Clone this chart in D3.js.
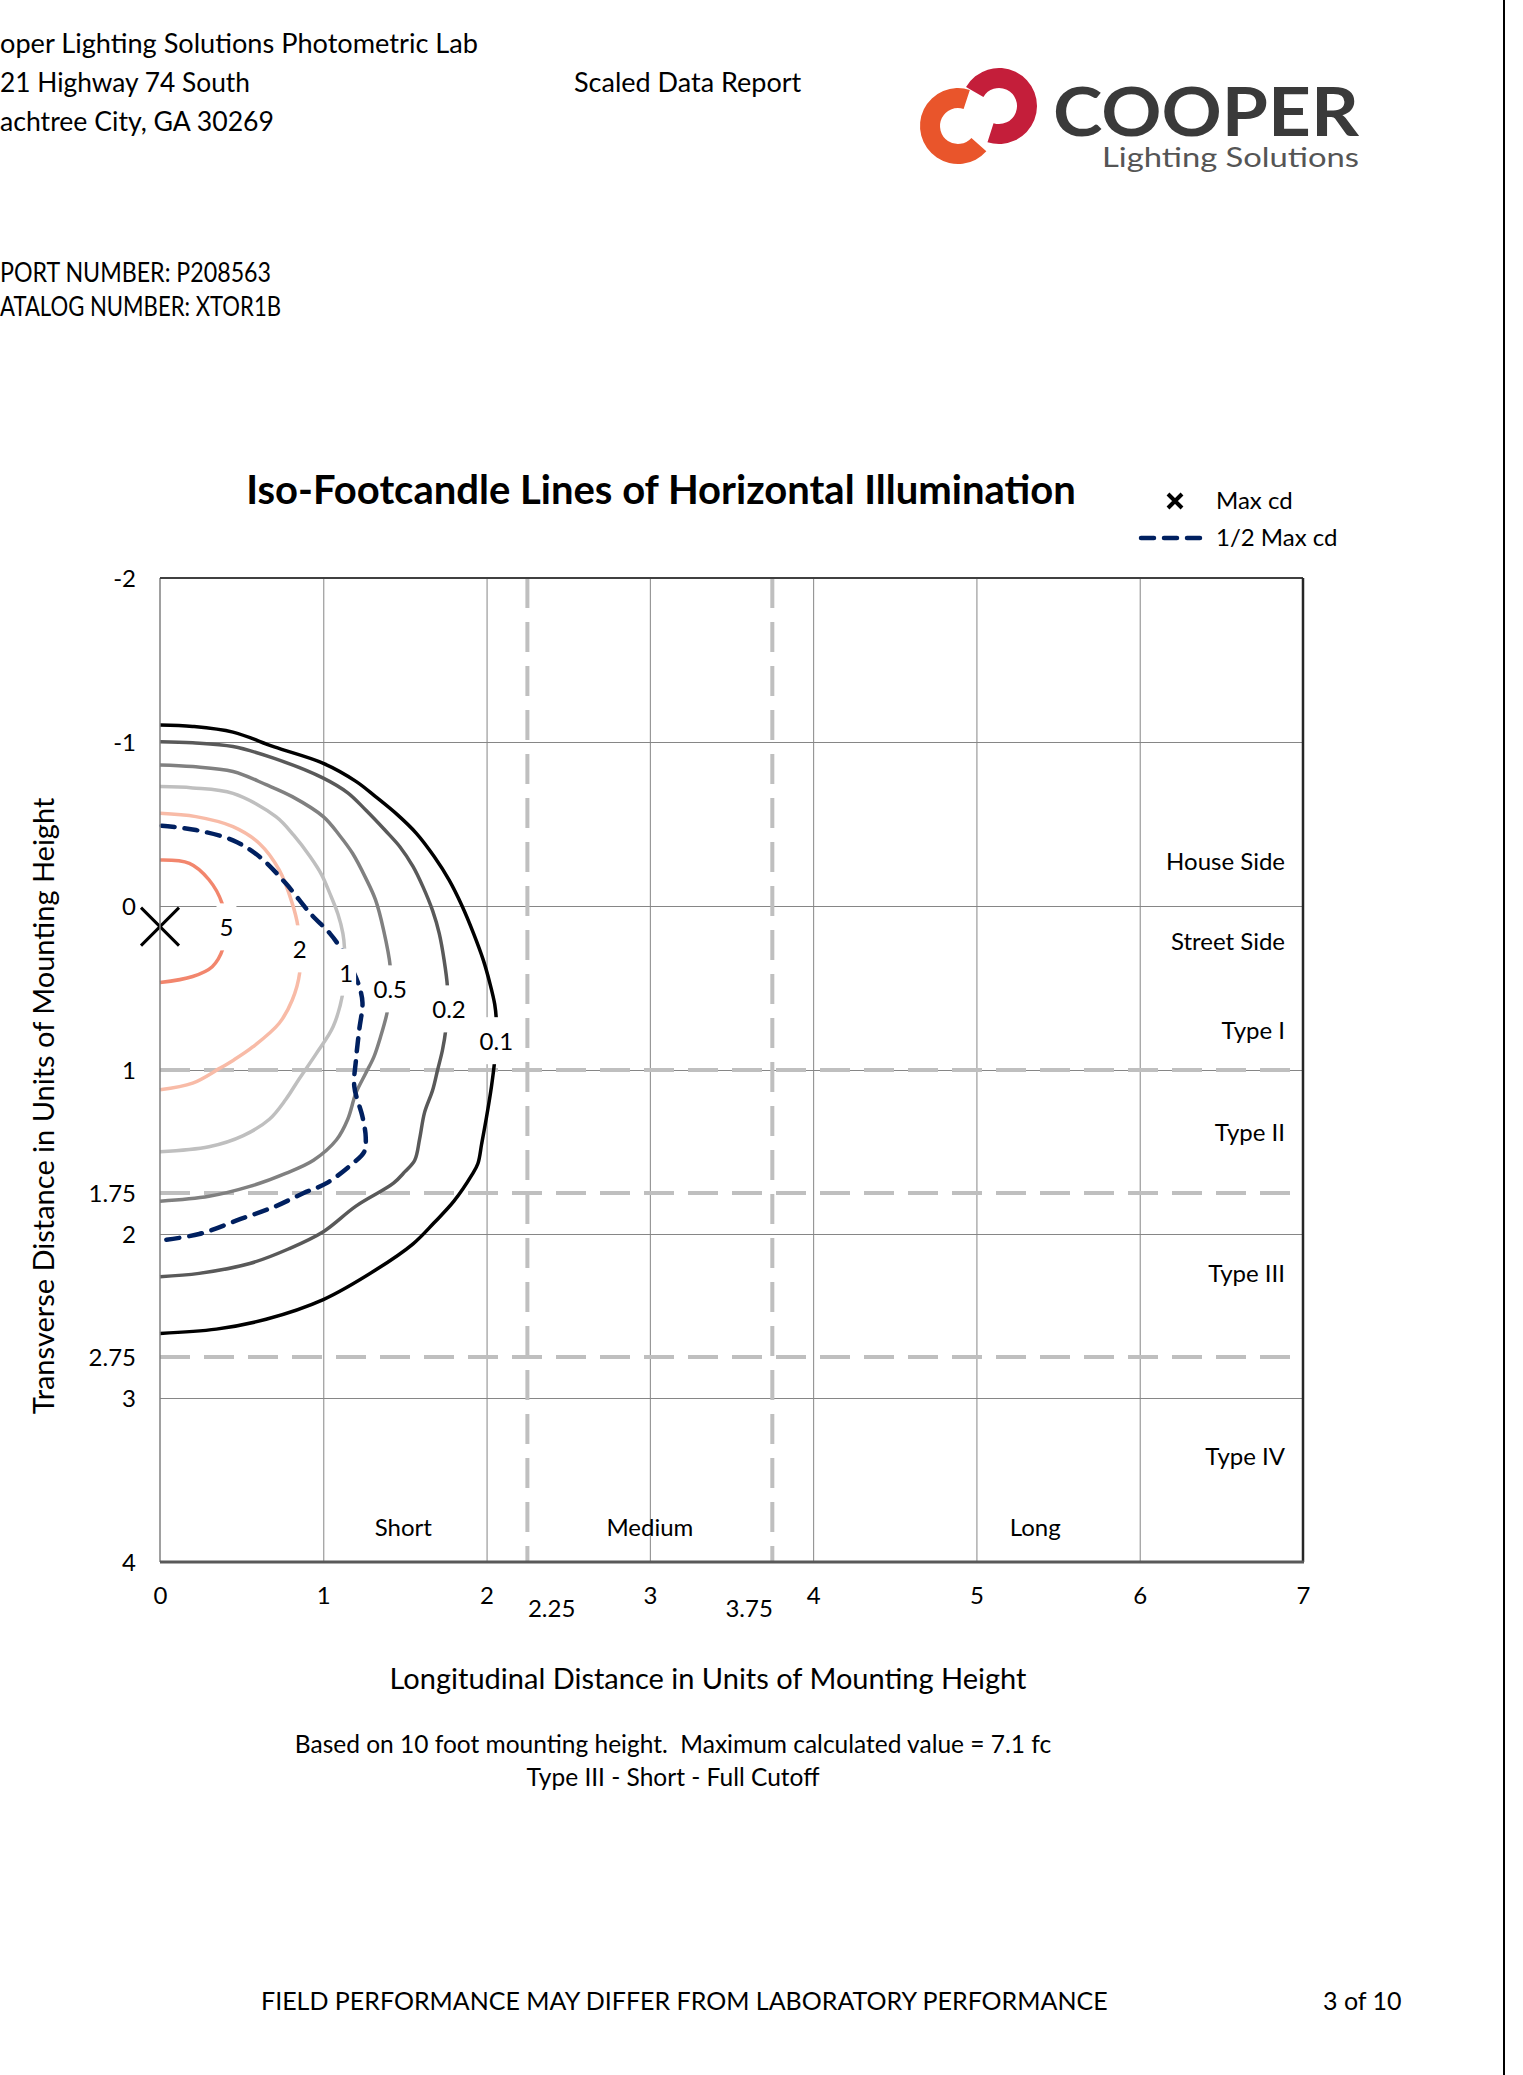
<!DOCTYPE html>
<html>
<head>
<meta charset="utf-8">
<script src="https://cdn.jsdelivr.net/npm/d3@7"></script>
<style>
  body { margin: 0; background: #fff; }
  svg { display: block; font-family: Lato, "Open Sans", sans-serif; }
</style>
</head>
<body>
<svg id="page"></svg>
<script>
var pageWidth = 1523,
    pageHeight = 2075;

// axis values
var xTicks = [0, 1, 2, 3, 4, 5, 6, 7];
var xExtraTicks = [2.25, 3.75];
var yTicks = [-2, -1, 0, 1, 1.75, 2, 2.75, 3, 4];
var gridX = [1, 2, 3, 4, 5, 6];
var gridY = [-1, 0, 1, 2, 3];
var rangeLinesX = [2.25, 3.75];
var typeLinesY = [1, 1.75, 2.75];

// iso-footcandle contours, [longitudinal, transverse] in mounting heights
var contourLevels = ["0.1", "0.2", "0.5", "1", "2", "5"];
var contour01 = [[0,-1.104],[0.2,-1.095],[0.447,-1.06],[0.7,-0.97],[1.0,-0.87],[1.2,-0.76],[1.32,-0.667],[1.45,-0.56],[1.57,-0.443],[1.68,-0.30],[1.77,-0.159],[1.85,0.0],[1.92,0.167],[1.98,0.33],[2.02,0.47],[2.05,0.6],[2.06,0.7],[2.06,0.80],[2.05,0.94],[2.03,1.1],[2.0,1.285],[1.97,1.45],[1.947,1.57],[1.91,1.64],[1.80,1.80],[1.68,1.93],[1.55,2.06],[1.32,2.22],[1.0,2.40],[0.65,2.52],[0.345,2.58],[0,2.606]];
var contour02 = [[0,-1.002],[0.2,-0.995],[0.447,-0.972],[0.7,-0.9],[1.0,-0.78],[1.15,-0.69],[1.26,-0.585],[1.38,-0.46],[1.47,-0.36],[1.55,-0.24],[1.61,-0.118],[1.67,0.03],[1.71,0.167],[1.74,0.33],[1.76,0.49],[1.76,0.62],[1.75,0.756],[1.73,0.878],[1.70,1.0],[1.67,1.122],[1.62,1.26],[1.59,1.42],[1.56,1.55],[1.50,1.62],[1.43,1.69],[1.20,1.83],[1.0,1.986],[0.79,2.09],[0.55,2.18],[0.24,2.24],[0,2.26]];
var contour05 = [[0,-0.86],[0.2,-0.85],[0.447,-0.82],[0.65,-0.74],[0.81,-0.667],[1.0,-0.545],[1.1,-0.43],[1.18,-0.32],[1.26,-0.17],[1.32,-0.037],[1.37,0.15],[1.41,0.37],[1.41,0.52],[1.39,0.654],[1.35,0.80],[1.31,0.92],[1.26,1.02],[1.20,1.14],[1.15,1.30],[1.08,1.427],[0.94,1.55],[0.77,1.63],[0.55,1.71],[0.30,1.77],[0,1.80]];
var contour1 = [[0,-0.728],[0.2,-0.72],[0.447,-0.687],[0.71,-0.545],[0.82,-0.43],[0.92,-0.30],[0.99,-0.19],[1.04,-0.077],[1.09,0.05],[1.12,0.167],[1.13,0.258],[1.13,0.40],[1.12,0.53],[1.06,0.736],[0.957,0.90],[0.855,1.05],[0.77,1.18],[0.67,1.30],[0.51,1.40],[0.30,1.468],[0,1.498]];
var contour2 = [[0,-0.565],[0.22,-0.545],[0.447,-0.484],[0.61,-0.38],[0.73,-0.22],[0.81,-0.016],[0.845,0.126],[0.855,0.27],[0.855,0.41],[0.81,0.573],[0.73,0.715],[0.57,0.858],[0.45,0.94],[0.365,0.99],[0.20,1.08],[0,1.12]];
var contour5 = [[0,-0.28],[0.18,-0.26],[0.30,-0.16],[0.38,-0.016],[0.40,0.13],[0.386,0.258],[0.32,0.37],[0.20,0.43],[0,0.467]];
var contourLabelAt = [[2.06,0.828],[1.77,0.634],[1.41,0.512],[1.14,0.41],[0.855,0.268],[0.407,0.134]];

var halfMaxCd = [[0.01,-0.49],[0.22,-0.463],[0.447,-0.40],[0.61,-0.30],[0.77,-0.138],[0.92,0.045],[1.04,0.167],[1.10,0.248],[1.17,0.37],[1.22,0.49],[1.24,0.59],[1.22,0.756],[1.20,0.94],[1.19,1.10],[1.24,1.285],[1.26,1.41],[1.25,1.50],[1.18,1.57],[1.02,1.69],[0.88,1.75],[0.71,1.83],[0.49,1.91],[0.24,2.0],[0,2.04]];
var maxCd = [0, 0.126];

// zone labels
var sideLabels = ["House Side", "Street Side", "Type I", "Type II", "Type III", "Type IV"];
var sideLabelY = [-0.27, 0.22, 0.76, 1.38, 2.24, 3.36];
var rangeLabels = ["Short", "Medium", "Long"];
var rangeLabelX = [1.49, 3.0, 5.36];

// header lines: part hidden past the left margin, visible part
var headerHidden = ["Co", "11", "Pe", "RE", "C"];
var headerShown = ["oper Lighting Solutions Photometric Lab", "21 Highway 74 South", "achtree City, GA 30269", "PORT NUMBER: P208563", "ATALOG NUMBER: XTOR1B"];

var contourColors = ["#000000", "#595959", "#808080", "#bfbfbf", "#f8bba7", "#f2866d"];

var svg = d3.select("#page")
    .attr("width", pageWidth)
    .attr("height", pageHeight);

svg.append("rect").attr("width", pageWidth).attr("height", pageHeight).attr("fill", "#fff");

// page edge on the right
svg.append("line")
    .attr("x1", 1504).attr("x2", 1504).attr("y1", 0).attr("y2", pageHeight)
    .attr("stroke", "#000").attr("stroke-width", 2);

// header, the left margin cuts the first letters off
var headerY = [44, 83, 122, 273, 307];
var headerWidth = [478, 250, 274, 271, 281];
headerShown.forEach(function(s, i) {
    svg.append("text").attr("x", 0).attr("y", headerY[i]).attr("dy", "0.35em")
        .attr("text-anchor", "end").style("font-size", "27px")
        .text(headerHidden[i]);
    svg.append("text").attr("x", 0).attr("y", headerY[i]).attr("dy", "0.35em")
        .attr("textLength", headerWidth[i]).attr("lengthAdjust", "spacingAndGlyphs")
        .style("font-size", "27px")
        .text(s);
});

svg.append("text").attr("x", 574).attr("y", 83).attr("dy", "0.35em")
    .style("font-size", "27px").text("Scaled Data Report");

// logo
var logo = svg.append("g");
var ring = d3.arc().innerRadius(18).outerRadius(38);
logo.append("path").attr("transform", "translate(958,126)")
    .attr("d", ring({startAngle: 2.3, endAngle: 6.6}))
    .attr("fill", "#e9552b");
logo.append("path").attr("transform", "translate(999,106)")
    .attr("d", ring({startAngle: -1.05, endAngle: 3.45}))
    .attr("fill", "#c41e3a");
logo.append("text").attr("x", 1053).attr("y", 136)
    .attr("textLength", 306).attr("lengthAdjust", "spacingAndGlyphs")
    .style("font-size", "66px").style("font-weight", "bold").attr("fill", "#3a3a3a")
    .text("COOPER");
logo.append("text").attr("x", 1102).attr("y", 167)
    .attr("textLength", 257).attr("lengthAdjust", "spacingAndGlyphs")
    .style("font-size", "27px").attr("fill", "#555")
    .text("Lighting Solutions");

// chart
var plotLeft = 160, plotRight = 1303, plotTop = 578, plotBottom = 1562;
var x = d3.scaleLinear().domain([0, 7]).range([plotLeft, plotRight]);
var y = d3.scaleLinear().domain([-2, 4]).range([plotTop, plotBottom]);

svg.append("text").attr("x", 661).attr("y", 490).attr("dy", "0.35em")
    .attr("text-anchor", "middle")
    .style("font-size", "40px").style("font-weight", "bold")
    .text("Iso-Footcandle Lines of Horizontal Illumination");

// legend
var legend = svg.append("g");
legend.append("path")
    .attr("d", "M1168,494L1182,508M1182,494L1168,508")
    .attr("stroke", "#000").attr("stroke-width", 4);
legend.append("text").attr("x", 1216).attr("y", 501).attr("dy", "0.35em")
    .style("font-size", "24px").text("Max cd");
legend.append("line").attr("x1", 1141).attr("x2", 1208).attr("y1", 538).attr("y2", 538)
    .attr("stroke", "#002060").attr("stroke-width", 4.5)
    .attr("stroke-dasharray", "13 10").attr("stroke-linecap", "round");
legend.append("text").attr("x", 1216).attr("y", 538).attr("dy", "0.35em")
    .style("font-size", "24px").text("1/2 Max cd");

var plot = svg.append("g");

// gridlines
plot.append("g")
    .attr("transform", "translate(0," + plotBottom + ")")
    .call(d3.axisBottom(x).tickValues(gridX).tickSize(-(plotBottom - plotTop)).tickFormat(""))
    .call(function(g) { g.select(".domain").remove(); })
    .selectAll("line").attr("stroke", "#868686").attr("stroke-width", 1);
plot.append("g")
    .attr("transform", "translate(" + plotLeft + ",0)")
    .call(d3.axisLeft(y).tickValues(gridY).tickSize(-(plotRight - plotLeft)).tickFormat(""))
    .call(function(g) { g.select(".domain").remove(); })
    .selectAll("line").attr("stroke", "#868686").attr("stroke-width", 1);

// distribution boundaries
plot.selectAll(".rangeLine")
    .data(rangeLinesX).enter().append("line")
    .attr("x1", function(d) { return x(d); }).attr("x2", function(d) { return x(d); })
    .attr("y1", plotTop).attr("y2", plotBottom)
    .attr("stroke", "#bfbfbf").attr("stroke-width", 4).attr("stroke-dasharray", "30 14");
plot.selectAll(".typeLine")
    .data(typeLinesY).enter().append("line")
    .attr("x1", plotLeft).attr("x2", plotRight)
    .attr("y1", function(d) { return y(d); }).attr("y2", function(d) { return y(d); })
    .attr("stroke", "#bfbfbf").attr("stroke-width", 4).attr("stroke-dasharray", "30 14");

// contours
var line = d3.line()
    .x(function(d) { return x(d[0]); })
    .y(function(d) { return y(d[1]); })
    .curve(d3.curveCatmullRom.alpha(0.5));

var contours = [contour01, contour02, contour05, contour1, contour2, contour5];
plot.selectAll(".contour")
    .data(contours).enter().append("path")
    .attr("d", line)
    .attr("fill", "none")
    .attr("stroke", function(d, i) { return contourColors[i]; })
    .attr("stroke-width", 3.5)
    .attr("stroke-linejoin", "round");

plot.append("path")
    .attr("d", line(halfMaxCd))
    .attr("fill", "none")
    .attr("stroke", "#002060").attr("stroke-width", 4.5)
    .attr("stroke-dasharray", "13 10").attr("stroke-linecap", "round");

// contour labels sit on white boxes that break the lines
contourLabelAt.forEach(function(p, i) {
    var g = plot.append("g");
    var t = g.append("text")
        .attr("x", x(p[0])).attr("y", y(p[1])).attr("dy", "0.35em")
        .attr("text-anchor", "middle").style("font-size", "24px")
        .text(contourLevels[i]);
    var b = t.node().getBBox();
    g.insert("rect", "text")
        .attr("x", b.x - 3).attr("y", b.y - 9)
        .attr("width", b.width + 6).attr("height", b.height + 18)
        .attr("fill", "#fff");
});

// max candela marker
var mx = x(maxCd[0]), my = y(maxCd[1]);
plot.append("path")
    .attr("d", "M" + (mx - 19) + "," + (my - 19) + "L" + (mx + 19) + "," + (my + 19) +
               "M" + (mx + 19) + "," + (my - 19) + "L" + (mx - 19) + "," + (my + 19))
    .attr("stroke", "#000").attr("stroke-width", 3);

// zone labels
plot.selectAll(".sideLabel")
    .data(sideLabels).enter().append("text")
    .attr("x", x(6.89))
    .attr("y", function(d, i) { return y(sideLabelY[i]); })
    .attr("dy", "0.35em").attr("text-anchor", "end")
    .style("font-size", "24px")
    .text(function(d) { return d; });
plot.selectAll(".rangeLabel")
    .data(rangeLabels).enter().append("text")
    .attr("x", function(d, i) { return x(rangeLabelX[i]); })
    .attr("y", y(3.79))
    .attr("dy", "0.35em").attr("text-anchor", "middle")
    .style("font-size", "24px")
    .text(function(d) { return d; });

// frame
plot.append("line").attr("x1", plotLeft).attr("x2", plotLeft).attr("y1", plotTop).attr("y2", plotBottom)
    .attr("stroke", "#808080").attr("stroke-width", 1.5);
plot.append("line").attr("x1", plotLeft).attr("x2", plotRight).attr("y1", plotTop).attr("y2", plotTop)
    .attr("stroke", "#404040").attr("stroke-width", 2);
plot.append("line").attr("x1", plotRight).attr("x2", plotRight).attr("y1", plotTop).attr("y2", plotBottom)
    .attr("stroke", "#262626").attr("stroke-width", 2.5);
plot.append("line").attr("x1", plotLeft).attr("x2", plotRight + 1).attr("y1", plotBottom).attr("y2", plotBottom)
    .attr("stroke", "#595959").attr("stroke-width", 3);

// tick labels
var plain = function(d) { return String(d); };

var yAxis = svg.append("g")
    .attr("transform", "translate(136,0)")
    .call(d3.axisLeft(y).tickValues(yTicks).tickSize(0).tickPadding(0).tickFormat(plain));
yAxis.select(".domain").remove();
yAxis.attr("font-family", null).attr("font-size", null);
yAxis.selectAll("text").style("font-size", "24px").attr("fill", "#000").attr("dy", "0.35em");

var xAxis = svg.append("g")
    .attr("transform", "translate(0,1596)")
    .call(d3.axisBottom(x).tickValues(xTicks).tickSize(0).tickPadding(0).tickFormat(plain));
xAxis.select(".domain").remove();
xAxis.attr("font-family", null).attr("font-size", null);
xAxis.selectAll("text").style("font-size", "24px").attr("fill", "#000").attr("y", 0).attr("dy", "0.35em");

var xAxis2 = svg.append("g")
    .attr("transform", "translate(0,1609)")
    .call(d3.axisBottom(x).tickValues(xExtraTicks).tickSize(0).tickPadding(0).tickFormat(plain));
xAxis2.select(".domain").remove();
xAxis2.attr("font-family", null).attr("font-size", null);
xAxis2.selectAll("text").style("font-size", "24px").attr("fill", "#000").attr("y", 0).attr("dy", "0.35em")
    .attr("text-anchor", function(d) { return d < 3 ? "start" : "end"; });

// axis titles and notes
svg.append("text").attr("x", 708).attr("y", 1679).attr("dy", "0.35em")
    .attr("text-anchor", "middle").style("font-size", "29px")
    .text("Longitudinal Distance in Units of Mounting Height");
svg.append("text")
    .attr("transform", "translate(44,1106) rotate(-90)")
    .attr("dy", "0.35em").attr("text-anchor", "middle").style("font-size", "29px")
    .text("Transverse Distance in Units of Mounting Height");

svg.append("text").attr("x", 673).attr("y", 1744).attr("dy", "0.35em")
    .attr("text-anchor", "middle").style("font-size", "24.5px").style("white-space", "pre")
    .text("Based on 10 foot mounting height.  Maximum calculated value = 7.1 fc");
svg.append("text").attr("x", 673).attr("y", 1777).attr("dy", "0.35em")
    .attr("text-anchor", "middle").style("font-size", "24.5px")
    .text("Type III - Short - Full Cutoff");

svg.append("text").attr("x", 261).attr("y", 2001).attr("dy", "0.35em")
    .style("font-size", "25px")
    .text("FIELD PERFORMANCE MAY DIFFER FROM LABORATORY PERFORMANCE");
svg.append("text").attr("x", 1323).attr("y", 2001).attr("dy", "0.35em")
    .style("font-size", "25px")
    .text("3 of 10");
</script>
</body>
</html>
